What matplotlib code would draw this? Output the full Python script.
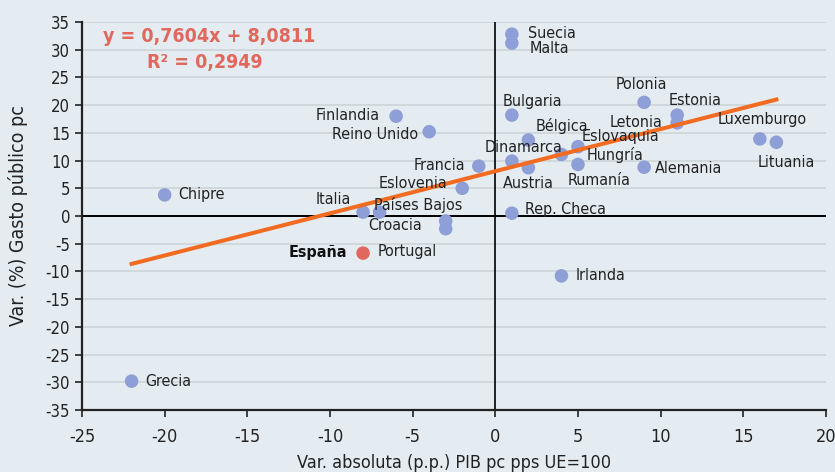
import numpy as np
import matplotlib.pyplot as plt

plt.rcParams['font.family'] = ['DejaVu Sans']
plt.rcParams['font.stretch'] = 'condensed'
plt.rcParams['axes.unicode_minus'] = False

bg = "#e4ecf2"
dot_color = "#8e9ed6"
spain_color = "#e0685c"
line_color = "#f26b21"
eq_color = "#e0685c"

# data: var. PIB pc (p.p.) vs var. gasto publico pc (%)
paises = ["Grecia", "Chipre", "Italia", "Croacia", "Países Bajos", "Portugal",
          "Finlandia", "Reino Unido", "Francia", "Eslovenia", "Suecia", "Malta",
          "Bulgaria", "Dinamarca", "Austria", "Bélgica", "Rep. Checa", "Hungría",
          "Eslovaquia", "Rumanía", "Polonia", "Alemania", "Estonia", "Letonia",
          "Luxemburgo", "Lituania", "Irlanda"]
var_pib = [-22, -20, -8, -7, -3, -3,
           -6, -4, -1, -2, 1, 1,
           1, 1, 2, 2, 1, 4,
           5, 5, 9, 9, 11, 11,
           16, 17, 4]
var_gasto = [-29.8, 3.8, 0.7, 0.7, -0.9, -2.3,
             18.0, 15.2, 9.0, 5.0, 32.8, 31.2,
             18.2, 9.9, 8.7, 13.7, 0.5, 11.1,
             12.5, 9.3, 20.5, 8.8, 18.2, 16.8,
             13.9, 13.3, -10.8]
espana_pib = -8
espana_gasto = -6.7

slope, intercept, r2 = 0.7604, 8.0811, 0.2949
fit_range = [-22, 17]

# label offsets in pixels (dx, dy, ha)
offsets = {
    "Grecia": (14, 0, "left"), "Chipre": (14, 0, "left"),
    "Italia": (-12, 13, "right"), "Croacia": (15, -13, "center"),
    "Países Bajos": (17, 16, "right"), "Portugal": (-9, -23, "right"),
    "Finlandia": (-16, 1, "right"), "Reino Unido": (-11, -3, "right"),
    "Francia": (-14, 1, "right"), "Eslovenia": (-15, 5, "right"),
    "Suecia": (16, 1, "left"), "Malta": (18, -5, "left"),
    "Bulgaria": (21, 14, "center"), "Dinamarca": (12, 14, "center"),
    "Austria": (0, -16, "center"), "Bélgica": (7, 14, "left"),
    "Rep. Checa": (13, 4, "left"), "Hungría": (25, -1, "left"),
    "Eslovaquia": (4, 10, "left"), "Rumanía": (21, -16, "center"),
    "Polonia": (-3, 18, "center"), "Alemania": (11, -1, "left"),
    "Estonia": (18, 15, "center"), "Letonia": (-15, 0, "right"),
    "Luxemburgo": (2, 19, "center"), "Lituania": (10, -20, "center"),
    "Irlanda": (14, 0, "left"),
}

fig = plt.figure(figsize=(8.35, 4.72), dpi=100, facecolor=bg)
ax = fig.add_axes([0.0982, 0.1314, 0.8910, 0.8220], facecolor=bg)

ax.set_xlim(-25, 20)
ax.set_ylim(-35, 35)
ax.set_xticks(np.arange(-25, 21, 5))
ax.set_yticks(np.arange(-35, 36, 5))
ax.yaxis.grid(True, color="#cfd6da", linewidth=1.3)
ax.set_axisbelow(True)

for s in ["top", "right"]:
    ax.spines[s].set_visible(False)
for s in ["left", "bottom"]:
    ax.spines[s].set_linewidth(1.6)
    ax.spines[s].set_color("#222222")
ax.tick_params(axis="both", direction="out", length=5, width=1.2,
               labelsize=12, colors="#222222")
ax.tick_params(axis="x", pad=8, labelsize=13)

ax.axhline(0, color="black", linewidth=1.4, zorder=1)
ax.axvline(0, color="black", linewidth=1.2, zorder=1)

ax.scatter(var_pib, var_gasto, s=95, color=dot_color, edgecolors="none", zorder=3)
ax.scatter([espana_pib], [espana_gasto], s=95, color=spain_color, edgecolors="none", zorder=3)

xs = np.array(fit_range)
ax.plot(xs, slope * xs + intercept, color=line_color, linewidth=2.9, zorder=4)

for name, x, y in zip(paises, var_pib, var_gasto):
    dx, dy, ha = offsets[name]
    ax.annotate(name, (x, y), xytext=(dx, dy), textcoords="offset pixels",
                ha=ha, va="center", fontsize=11.5, color="#222222", zorder=5)
ax.annotate("España", (espana_pib, espana_gasto), xytext=(-16, 1),
            textcoords="offset pixels", ha="right", va="center",
            fontsize=11.5, fontweight="bold", color="#111111", zorder=5)

eq = f"y = {slope:.4f}x + {intercept:.4f}".replace(".", ",")
ax.text(0.028, 0.963, eq, transform=ax.transAxes, fontsize=14, fontweight="bold",
        color=eq_color, va="center", ha="left")
ax.text(0.087, 0.895, "R² = " + f"{r2:.4f}".replace(".", ","), transform=ax.transAxes,
        fontsize=14, fontweight="bold", color=eq_color, va="center", ha="left")

ax.set_xlabel("Var. absoluta (p.p.) PIB pc pps UE=100", fontsize=13, color="#222222", labelpad=6)
ax.set_ylabel("Var. (%) Gasto público pc", fontsize=14, color="#222222", labelpad=13)

fig.savefig("out.png", dpi=100, facecolor=bg)
